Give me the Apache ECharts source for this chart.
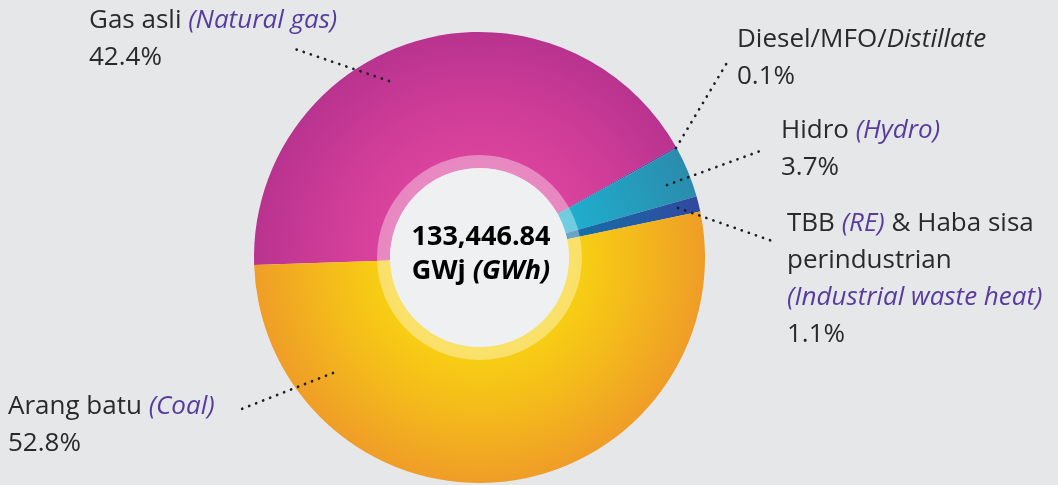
<!DOCTYPE html>
<html><head><meta charset="utf-8">
<script src="https://cdn.jsdelivr.net/npm/echarts@6/dist/echarts.min.js"></script>
<style>html,body{margin:0;padding:0;background:#e6e7e9;}#c{width:1058px;height:485px;}</style>
</head><body><div id="c"></div>
<script>
// ---- data ----
const categories = ['Gas asli', 'Diesel/MFO/', 'Hidro', 'TBB', 'Arang batu'];
const englishNames = ['(Natural gas)', 'Distillate', '(Hydro)', '(RE)', '(Coal)'];
const shares = [42.4, 0.1, 3.7, 1.1, 52.8];
const totalValue = '133,446.84';
const unitMalay = 'GWj';
const unitEnglish = '(GWh)';

// ---- style / layout ----
const CX = 479.5, CY = 257.5, R_OUT = 225.5, R_IN = 89.5, R_RING = 102.5;
function radial(stops) {
  return { type: 'radial', x: CX, y: CY, r: R_OUT, global: true,
    colorStops: stops.map(s => ({ offset: s[0], color: s[1] })) };
}
const sliceColors = [
  radial([[0.4, '#dc449e'], [0.7, '#cd3c97'], [1, '#b8338f']]),
  '#7b2b92',
  radial([[0.4, '#1fb0cf'], [1, '#2a8cad']]),
  radial([[0.4, '#1470a8'], [1, '#3149a0']]),
  radial([[0.4, '#f8d212'], [0.68, '#f4bb1b'], [1, '#ef9d27']])
];
const labelPos = [
  { x: 89, y: 2, end: [292, 48], anchor: [389, 81] },
  { x: 737, y: 21, end: [728, 61], anchor: [676, 148] },
  { x: 781, y: 112, end: [763, 150], anchor: [667, 185] },
  { x: 787, y: 205, end: [775, 242], anchor: [678, 208] },
  { x: 8, y: 388, end: [239, 410], anchor: [333, 373] }
];
const FONT = '"Open Sans"';
const FS = 26, LH = 37;
const DARK = '#2a2a2c', PURPLE = '#573c9e';

function labelText(i) {
  const pct = shares[i].toFixed(1) + '%';
  if (i === 1) return categories[i] + '{d|' + englishNames[i] + '}\n' + pct;
  if (i === 3) return categories[i] + ' {p|' + englishNames[i] + '} & Haba sisa\nperindustrian\n{p|(Industrial waste heat)}\n' + pct;
  return categories[i] + ' {p|' + englishNames[i] + '}\n' + pct;
}

const leaderLines = labelPos.map(lp => ({
  type: 'polyline',
  z: 100,
  silent: true,
  shape: { points: [lp.anchor, lp.end] },
  style: { stroke: '#1f1f21', lineWidth: 2.7, lineDash: [0.1, 7.4], lineCap: 'round', fill: null }
}));

const chart = echarts.init(document.getElementById('c'), null, { renderer: 'canvas' });
chart.setOption({
  backgroundColor: '#e6e7e9',
  animation: false,
  series: [
    {
      type: 'pie',
      center: [CX, CY],
      radius: [R_IN, R_OUT],
      startAngle: 181.9,
      clockwise: true,
      silent: true,
      avoidLabelOverlap: false,
      emphasis: { disabled: true },
      itemStyle: { borderWidth: 0 },
      data: shares.map((v, i) => ({ name: categories[i], value: v, itemStyle: { color: sliceColors[i] } })),
      label: {
        show: true,
        position: 'outside',
        formatter: p => labelText(p.dataIndex),
        fontFamily: FONT, fontSize: FS, lineHeight: LH, color: DARK,
        rich: {
          p: { fontFamily: FONT, fontSize: FS, lineHeight: LH, color: PURPLE, fontStyle: 'italic' },
          d: { fontFamily: FONT, fontSize: FS, lineHeight: LH, color: DARK, fontStyle: 'italic' }
        }
      },
      labelLine: { show: false },
      labelLayout: function (params) {
        const lp = labelPos[params.dataIndex];
        return { x: lp.x, y: lp.y, align: 'left', verticalAlign: 'top' };
      }
    },
    {
      type: 'pie',
      center: [CX, CY],
      radius: [R_IN, R_RING],
      silent: true,
      emphasis: { disabled: true },
      label: { show: false }, labelLine: { show: false },
      itemStyle: { color: 'rgba(255,255,255,0.37)', borderWidth: 0 },
      data: [{ value: 1 }]
    },
    {
      type: 'pie',
      center: [CX, CY],
      radius: [0, R_IN],
      silent: true,
      emphasis: { disabled: true },
      label: { show: false }, labelLine: { show: false },
      itemStyle: { color: '#eff0f1', borderWidth: 0 },
      data: [{ value: 1 }]
    }
  ],
  graphic: leaderLines.concat([{
    type: 'text',
    x: 481, y: 254,
    z: 100,
    style: {
      text: '{b|' + totalValue + '}\n{b|' + unitMalay + ' }{bp|' + unitEnglish + '}',
      align: 'center', verticalAlign: 'middle',
      rich: {
        b: { fontFamily: FONT, fontSize: 27, fontWeight: 'bold', color: '#231f20', lineHeight: 34 },
        bp: { fontFamily: FONT, fontSize: 27, fontWeight: 'bold', fontStyle: 'italic', color: PURPLE, lineHeight: 34 }
      }
    }
  }])
});
</script></body></html>
